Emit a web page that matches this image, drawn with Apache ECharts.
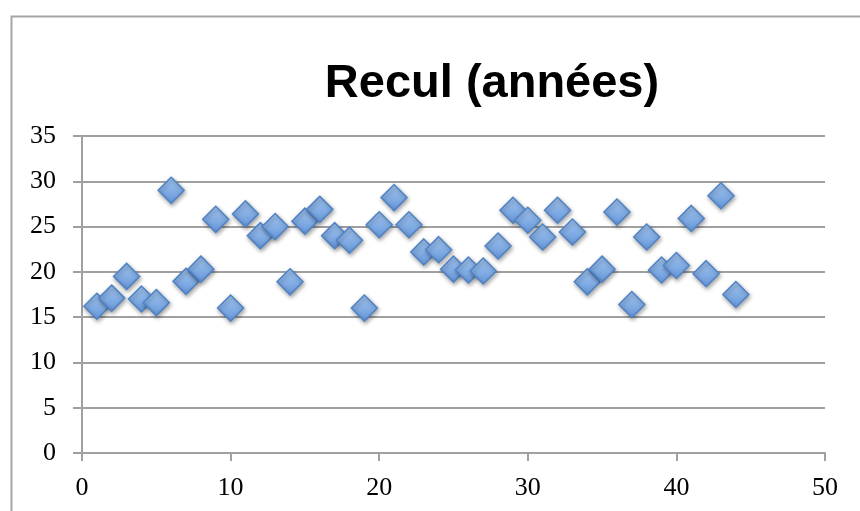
<!DOCTYPE html>
<html>
<head>
<meta charset="utf-8">
<script src="https://cdn.jsdelivr.net/npm/echarts@6/dist/echarts.min.js"></script>
<style>html,body{margin:0;padding:0;background:#fff}#c{width:860px;height:511px}</style>
</head>
<body>
<div id="c"></div>
<script>
const chartTitle = "Recul (années)";
const xValues = [1,2,3,4,5,6,7,8,9,10,11,12,13,14,15,16,17,18,19,20,21,22,23,24,25,26,27,28,29,30,31,32,33,34,35,36,37,38,39,40,41,42,43,44];
const yValues = [16.2,17.1,19.5,17.0,16.6,29.0,18.95,20.3,25.8,16.0,26.4,24.0,25.0,18.9,25.6,26.9,24.0,23.5,16.0,25.2,28.2,25.2,22.2,22.45,20.3,20.2,20.1,22.85,26.8,25.7,23.85,26.8,24.4,18.9,20.3,26.6,16.4,23.85,20.2,20.7,25.9,19.8,28.4,17.5];
const xTicks = {min:0, max:50, interval:10};
const yTicks = {min:0, max:35, interval:5};

const points = xValues.map((x,i)=>[x, yValues[i]]);
const chart = echarts.init(document.getElementById('c'), null, {renderer:'canvas'});
const labelStyle = {fontFamily:'Liberation Serif', fontSize:26, color:'#000'};
chart.setOption({
  animation:false,
  backgroundColor:'#fff',
  title:{text:chartTitle, left:487, top:56, textAlign:'center',
    textStyle:{fontFamily:'Liberation Sans', fontWeight:'bold', fontSize:47, color:'#000'}},
  grid:{left:82, right:35, top:136, bottom:58, containLabel:false},
  xAxis:{type:'value', min:xTicks.min, max:xTicks.max, interval:xTicks.interval,
    axisLine:{show:true, onZero:false, lineStyle:{color:'#a0a0a0', width:2}},
    axisTick:{show:true, inside:false, length:8, lineStyle:{color:'#a0a0a0', width:2}},
    axisLabel:{...labelStyle, margin:22},
    splitLine:{show:false}},
  yAxis:{type:'value', min:yTicks.min, max:yTicks.max, interval:yTicks.interval,
    axisLine:{show:true, onZero:false, lineStyle:{color:'#a0a0a0', width:2}},
    axisTick:{show:true, inside:false, length:9, lineStyle:{color:'#a0a0a0', width:2}},
    axisLabel:{...labelStyle, margin:26},
    splitLine:{show:true, lineStyle:{color:'#a0a0a0', width:2}}},
  graphic:[{type:'rect', left:9, top:14, z:-1, silent:true,
    shape:{width:900, height:600},
    style:{fill:'none', stroke:'#a6a6a6', lineWidth:2}}],
  series:[{type:'scatter', data:points, symbol:'diamond', symbolSize:26,
    itemStyle:{
      color:new echarts.graphic.LinearGradient(0,0,0,1,[{offset:0,color:'#a4c6f0'},{offset:1,color:'#6597da'}]),
      borderColor:'#4f83c6', borderWidth:1.5,
      shadowBlur:4, shadowColor:'rgba(0,0,0,0.35)', shadowOffsetX:1, shadowOffsetY:2, opacity:1}}]
});
</script>
</body>
</html>
